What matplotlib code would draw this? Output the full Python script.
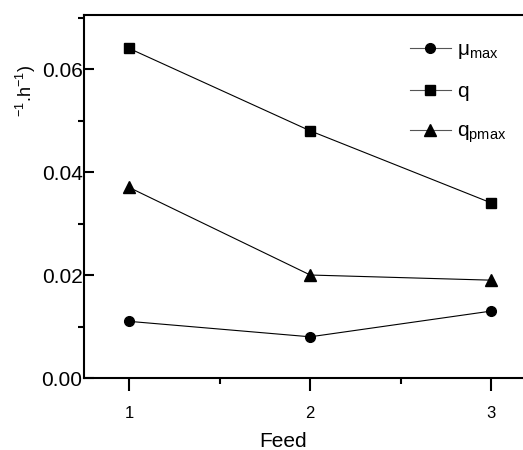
import matplotlib.pyplot as plt
from matplotlib.ticker import MultipleLocator

plt.rcParams['font.family'] = ['Liberation Sans', 'DejaVu Sans']
plt.rcParams['mathtext.fontset'] = 'custom'
plt.rcParams['mathtext.rm'] = 'Liberation Sans'
plt.rcParams['mathtext.it'] = 'Liberation Sans'

feed = [1, 2, 3]
mu_max = [0.011, 0.008, 0.013]
q = [0.064, 0.048, 0.034]
q_pmax = [0.037, 0.020, 0.019]

fig = plt.figure(figsize=(5.23, 4.5), dpi=100)
# axes run past the right edge of the figure, as in the original
ax = fig.add_axes([84/523, 72/450, 452.5/523, 363/450])

ax.plot(feed, mu_max, color='black', lw=0.8, marker='o', ms=7, label=r'$\mu_{\rm max}$')
ax.plot(feed, q, color='black', lw=0.8, marker='s', ms=7, label='q')
ax.plot(feed, q_pmax, color='black', lw=0.8, marker='^', ms=8, label=r'q$_{\rm pmax}$')

ax.set_xlim(0.75, 3.25)
ax.set_ylim(0, 0.0705)
ax.set_xticks(feed)
ax.xaxis.set_minor_locator(MultipleLocator(0.5))
ax.yaxis.set_major_locator(MultipleLocator(0.02))
ax.yaxis.set_minor_locator(MultipleLocator(0.01))
ax.yaxis.set_major_formatter(plt.FormatStrFormatter('%.2f'))

for s in ax.spines.values():
    s.set_linewidth(1.5)

ax.tick_params(axis='x', which='major', direction='out', length=9, width=1.5, pad=11, labelsize=12)
ax.tick_params(axis='x', which='minor', direction='out', length=4.5, width=1.5)
ax.tick_params(axis='y', which='major', direction='in', length=7, width=1.5, pad=1, labelsize=15)
ax.tick_params(axis='y', which='minor', direction='out', length=4, width=1.5)

ax.set_xlabel('Feed', fontsize=15)
ax.xaxis.set_label_coords(0.44, -0.148)

fig.text(26/523, 1 - 65/450, r'$^{-1}$.h$^{-1}$)', rotation=90, ha='center', va='top', fontsize=13)

leg = ax.legend(loc='upper left', bbox_to_anchor=(0.678, 0.982), frameon=False, fontsize=15,
                handlelength=2.0, labelspacing=1.0, handletextpad=0.3)
for h in leg.legend_handles:
    h.set_color('#555555')
    h.set_markerfacecolor('black')
    h.set_markeredgecolor('black')

fig.savefig('out.png', dpi=100)
